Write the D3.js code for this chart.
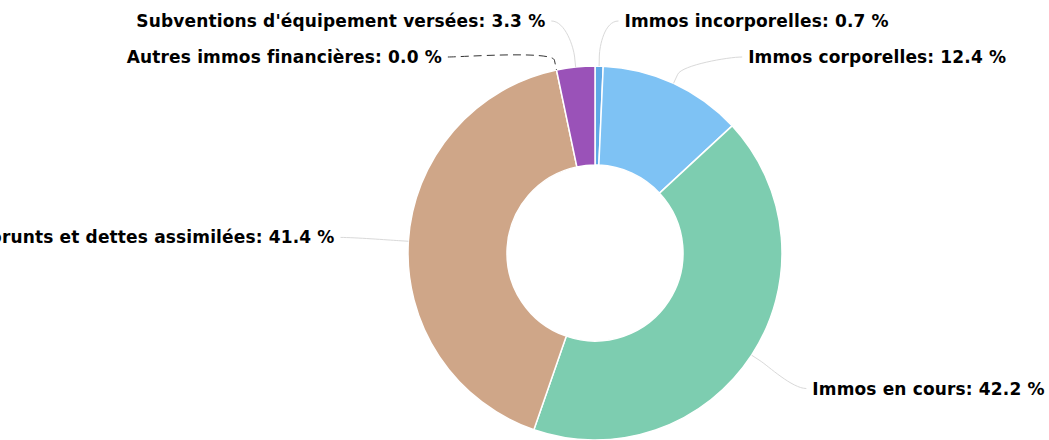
<!DOCTYPE html>
<html><head><meta charset="utf-8">
<script src="https://cdn.jsdelivr.net/npm/d3@7"></script>
<style>html,body{margin:0;padding:0;background:#fff;overflow:hidden}</style>
</head><body>
<svg id="chart" width="1049" height="440"></svg>
<script>
// ---- data ----
const categories = [
  "Immos incorporelles",
  "Immos corporelles",
  "Immos en cours",
  "Emprunts et dettes assimilées",
  "Autres immos financières",
  "Subventions d'équipement versées"
];
const values = [0.7, 12.4, 42.2, 41.4, 0.0, 3.3];
const palette = ["#5fa9e6", "#7ec2f4", "#7dcdb0", "#cfa688", "#3c3c3c", "#9a52b8"];

// ---- layout ----
const W = 1049, H = 440;
const cx = 595, cy = 253, rOuter = 187, rInner = 88;
const labelR = 248, getXR = 232, getXPad = 29, topPad = 24;
const minY = 21, spacing = 36;
const fontSize = 17;

const svg = d3.select("#chart");
const data = categories.map((c, i) => ({ name: c, value: values[i], color: palette[i] }));

const pie = d3.pie().sort(null).value(d => d.value).startAngle(0).endAngle(2 * Math.PI);
const arcs = pie(data);
const arc = d3.arc().innerRadius(rInner).outerRadius(rOuter);

const g = svg.append("g").attr("transform", `translate(${cx},${cy})`);
g.selectAll("path.slice").data(arcs.filter(a => a.data.value > 0)).join("path")
  .attr("class", "slice")
  .attr("d", arc)
  .attr("fill", d => d.data.color)
  .attr("stroke", "#fff")
  .attr("stroke-width", 1.5)
  .attr("stroke-linejoin", "round");

// ---- label layout ----
const fmt = d3.format(".1f");
const labels = arcs.map(a => {
  const mid = (a.startAngle + a.endAngle) / 2;
  return {
    a, mid,
    side: mid < Math.PI ? 1 : -1,
    ideal: cy - labelR * Math.cos(mid)
  };
});
[1, -1].forEach(side => {
  const list = labels.filter(l => l.side === side).sort((p, q) => p.ideal - q.ideal);
  let prev = -Infinity;
  list.forEach(l => {
    l.y = Math.max(l.ideal, prev + spacing, minY);
    prev = l.y;
  });
});
labels.forEach(l => {
  if (l.y <= minY + 0.01) {
    const nat = cx + labelR * Math.sin(l.mid);
    l.x = nat + l.side * topPad;
  } else {
    const dy = l.y - cy;
    const dx = Math.sqrt(Math.max(getXR * getXR - dy * dy, 0));
    l.x = cx + l.side * (dx + getXPad);
  }
  const base = [cx + rOuter * Math.sin(l.mid), cy - rOuter * Math.cos(l.mid)];
  const brk = [cx + (rOuter + 10) * Math.sin(l.mid), cy - (rOuter + 10) * Math.cos(l.mid)];
  const endX = l.x - l.side * 6;
  const c1x = l.x - l.side * 20;
  l.path = `M${endX},${l.y}C${c1x},${l.y},${2 * brk[0] - base[0]},${2 * brk[1] - base[1]},${brk[0]},${brk[1]}L${base[0]},${base[1]}`;
});

svg.selectAll("path.conn").data(labels).join("path")
  .attr("class", "conn")
  .attr("d", d => d.path)
  .attr("fill", "none")
  .attr("stroke", d => d.a.data.value > 0 ? "#d9d9d9" : "#333")
  .attr("stroke-dasharray", d => d.a.data.value > 0 ? null : "8,5")
  .attr("stroke-width", 1);

svg.selectAll("text.lbl").data(labels).join("text")
  .attr("class", "lbl")
  .attr("x", d => d.x)
  .attr("y", d => d.y + 6)
  .attr("text-anchor", d => d.side > 0 ? "start" : "end")
  .attr("font-family", "DejaVu Sans, Verdana, sans-serif")
  .attr("font-weight", "bold")
  .attr("font-size", fontSize)
  .attr("letter-spacing", 0.15)
  .attr("fill", "#000")
  .text(d => `${d.a.data.name}: ${fmt(d.a.data.value)} %`);
</script>
</body></html>
